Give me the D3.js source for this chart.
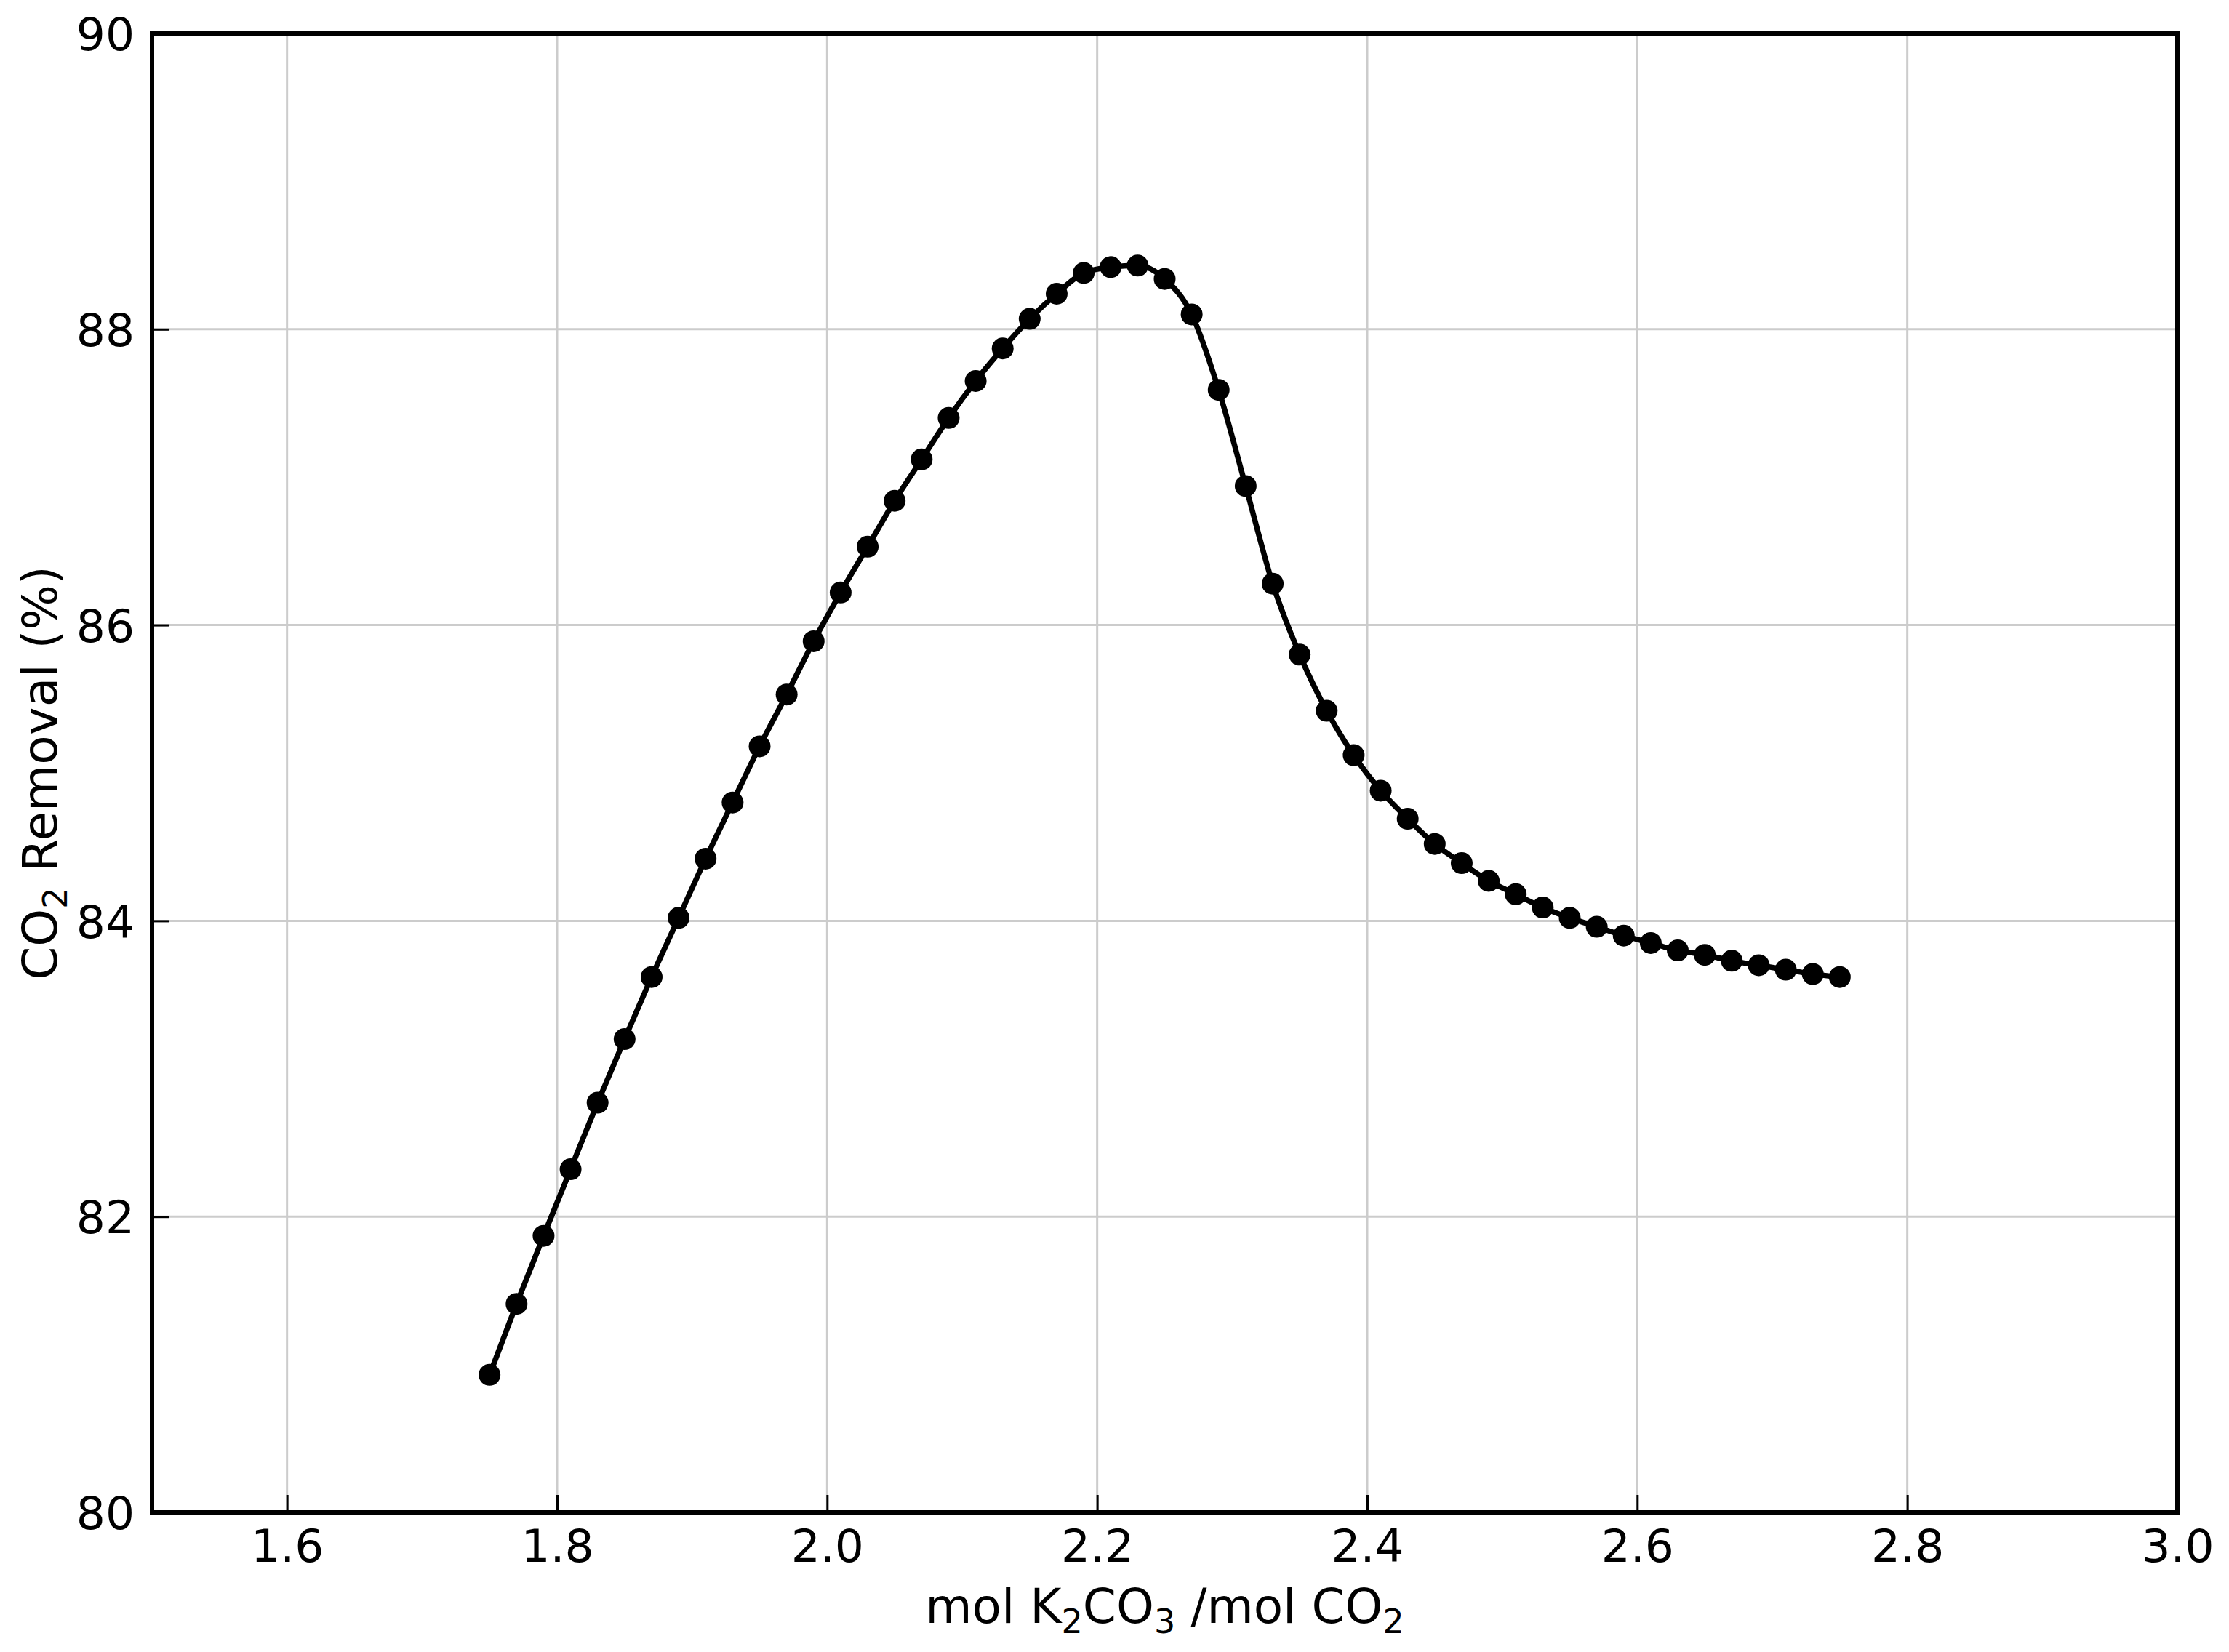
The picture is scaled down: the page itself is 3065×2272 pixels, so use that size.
<!DOCTYPE html>
<meta charset="utf-8">
<style>
body { margin: 0; background: #fff; }
text { font-family: "DejaVu Sans", sans-serif; fill: #000; }
</style>
<body>
<div id="chart"></div>
<script src="https://d3js.org/d3.v7.min.js"></script>
<script>
// K2CO3 / CO2 molar ratio
var ratio = [1.75, 1.77, 1.79, 1.81, 1.83, 1.85, 1.87, 1.89, 1.91, 1.93,
  1.95, 1.97, 1.99, 2.01, 2.03, 2.05, 2.07, 2.09, 2.11, 2.13,
  2.15, 2.17, 2.19, 2.21, 2.23, 2.25, 2.27, 2.29, 2.31, 2.33,
  2.35, 2.37, 2.39, 2.41, 2.43, 2.45, 2.47, 2.49, 2.51, 2.53,
  2.55, 2.57, 2.59, 2.61, 2.63, 2.65, 2.67, 2.69, 2.71, 2.73, 2.75];
// CO2 removal, %
var removal = [80.93, 81.41, 81.87, 82.32, 82.77, 83.20, 83.62, 84.02, 84.42, 84.80,
  85.18, 85.53, 85.89, 86.22, 86.53, 86.84, 87.12, 87.40, 87.65, 87.87,
  88.07, 88.24, 88.38, 88.42, 88.43, 88.34, 88.10, 87.59, 86.94, 86.28,
  85.80, 85.42, 85.12, 84.88, 84.69, 84.52, 84.39, 84.27, 84.18, 84.09,
  84.02, 83.96, 83.90, 83.85, 83.80, 83.77, 83.73, 83.70, 83.67, 83.64, 83.62];
var xTicks = [1.6, 1.8, 2.0, 2.2, 2.4, 2.6, 2.8, 3.0];
var yTicks = [80, 82, 84, 86, 88, 90];

var W = 3065, H = 2272;
var margin = {top: 46, right: 71, bottom: 192, left: 209};

var svg = d3.select("#chart").append("svg")
    .attr("width", W)
    .attr("height", H);

var x = d3.scaleLinear().domain([1.5, 3.0]).range([margin.left, W - margin.right]);
var y = d3.scaleLinear().domain([80, 90]).range([H - margin.bottom, margin.top]);

// grid
svg.append("g")
  .selectAll("line")
  .data(xTicks.filter(function(d) { return d < 3.0; }))
  .enter().append("line")
    .attr("x1", function(d) { return x(d); })
    .attr("x2", function(d) { return x(d); })
    .attr("y1", y(80))
    .attr("y2", y(90))
    .attr("stroke", "#cccccc")
    .attr("stroke-width", 3);

svg.append("g")
  .selectAll("line")
  .data(yTicks.filter(function(d) { return d > 80 && d < 90; }))
  .enter().append("line")
    .attr("x1", x(1.5))
    .attr("x2", x(3.0))
    .attr("y1", function(d) { return y(d); })
    .attr("y2", function(d) { return y(d); })
    .attr("stroke", "#cccccc")
    .attr("stroke-width", 3);

// axes, ticks pointing inward
var xAxis = svg.append("g")
    .attr("transform", "translate(0," + y(80) + ")")
    .call(d3.axisBottom(x).tickValues(xTicks).tickFormat(d3.format(".1f"))
      .tickSizeInner(-24).tickSizeOuter(0).tickPadding(0));
xAxis.select(".domain").remove();
xAxis.selectAll(".tick line").attr("stroke", "#000").attr("stroke-width", 3);
xAxis.selectAll(".tick text")
    .attr("y", 68)
    .attr("dy", 0)
    .style("font-size", "63px")
    .style("font-family", "DejaVu Sans, sans-serif");

var yAxis = svg.append("g")
    .attr("transform", "translate(" + x(1.5) + ",0)")
    .call(d3.axisLeft(y).tickValues(yTicks).tickFormat(d3.format("d"))
      .tickSizeInner(-24).tickSizeOuter(0).tickPadding(0));
yAxis.select(".domain").remove();
yAxis.selectAll(".tick line").attr("stroke", "#000").attr("stroke-width", 3);
yAxis.selectAll(".tick text")
    .attr("x", -24)
    .attr("dy", "0.36em")
    .style("font-size", "63px")
    .style("font-family", "DejaVu Sans, sans-serif");

// frame
svg.append("rect")
    .attr("x", x(1.5))
    .attr("y", y(90))
    .attr("width", x(3.0) - x(1.5))
    .attr("height", y(80) - y(90))
    .attr("fill", "none")
    .attr("stroke", "#000")
    .attr("stroke-width", 6);

// series
var pts = ratio.map(function(r, i) { return [r, removal[i]]; });

var line = d3.line()
    .x(function(d) { return x(d[0]); })
    .y(function(d) { return y(d[1]); })
    .curve(d3.curveMonotoneX);

svg.append("path")
    .datum(pts)
    .attr("d", line)
    .attr("fill", "none")
    .attr("stroke", "#000")
    .attr("stroke-width", 7.5);

svg.append("g")
  .selectAll("circle")
  .data(pts)
  .enter().append("circle")
    .attr("cx", function(d) { return x(d[0]); })
    .attr("cy", function(d) { return y(d[1]); })
    .attr("r", 15)
    .attr("fill", "#000");

// axis labels
var xl = svg.append("text")
    .attr("x", (x(1.5) + x(3.0)) / 2)
    .attr("y", 2232)
    .attr("text-anchor", "middle")
    .style("font-size", "66px");
xl.append("tspan").text("mol K");
xl.append("tspan").attr("dy", 14).style("font-size", "46px").text("2");
xl.append("tspan").attr("dy", -14).text("CO");
xl.append("tspan").attr("dy", 14).style("font-size", "46px").text("3");
xl.append("tspan").attr("dy", -14).text(" /mol CO");
xl.append("tspan").attr("dy", 14).style("font-size", "46px").text("2");

var yl = svg.append("text")
    .attr("transform", "translate(78," + ((y(80) + y(90)) / 2) + ") rotate(-90)")
    .attr("text-anchor", "middle")
    .style("font-size", "66px");
yl.append("tspan").text("CO");
yl.append("tspan").attr("dy", 14).style("font-size", "46px").text("2");
yl.append("tspan").attr("dy", -14).text(" Removal (%)");
</script>
</body>
